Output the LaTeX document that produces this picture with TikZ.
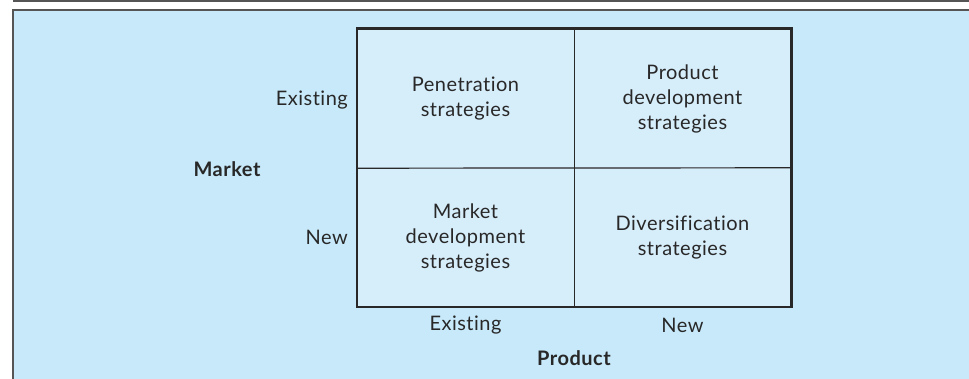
\documentclass[tikz,border=0pt]{standalone}
\usepackage{fontspec}
\setmainfont{Lato}[Ligatures={NoCommon,NoRare},LetterSpace=2.5]
\definecolor{panel}{RGB}{199,233,249}
\definecolor{cellbg}{RGB}{214,237,250}
\definecolor{ink}{RGB}{40,40,40}
\definecolor{rule}{RGB}{85,85,85}
\begin{document}
\begin{tikzpicture}[x=1pt,y=-1pt,
  txt/.style={text=ink,font=\fontsize{20}{25}\selectfont,align=center,inner sep=0pt},
  lab/.style={txt},
  bold/.style={text=ink,font=\fontsize{20}{25}\selectfont\bfseries,inner sep=0pt},
  cell/.style={txt,minimum width=217pt,minimum height=139pt,fill=cellbg}]
\useasboundingbox (0,0) rectangle (969,379);
% header rule and panel
\draw[rule,line width=1.5pt] (13,0.8) -- (969,0.8);
\fill[panel] (13,10) rectangle (975,385);
\draw[rule,line width=1.5pt] (13,385) -- (13,10) -- (975,10);
% cells
\node[cell] (pen) at (465.5,98.5) {Penetration\\strategies};
\node[cell] (prod) at (682.5,98.5) {Product\\development\\strategies};
\node[cell] (mkt) at (465.5,237.5) {Market\\development\\strategies};
\node[cell] (div) at (682.5,237.5) {Diversification\\strategies};
% grid lines
\draw[ink,line width=1.2pt] (pen.north east) -- (mkt.south east);
\draw[ink,line width=1.2pt] (pen.south west) -- (div.north east);
\draw[ink,line width=2.6pt] (pen.north west) rectangle (div.south east);
% axis labels
\node[lab,anchor=east] (mex) at (348,100) {Existing};
\node[lab,anchor=east] (mnew) at (348,237) {New};
\node[bold] (market) at (227,169) {Market};
\node[lab] (pex) at (465.5,325) {Existing};
\node[lab] (pnew) at (682.5,325) {New};
\node[bold] (product) at (574,358) {Product};
\end{tikzpicture}
\end{document}
